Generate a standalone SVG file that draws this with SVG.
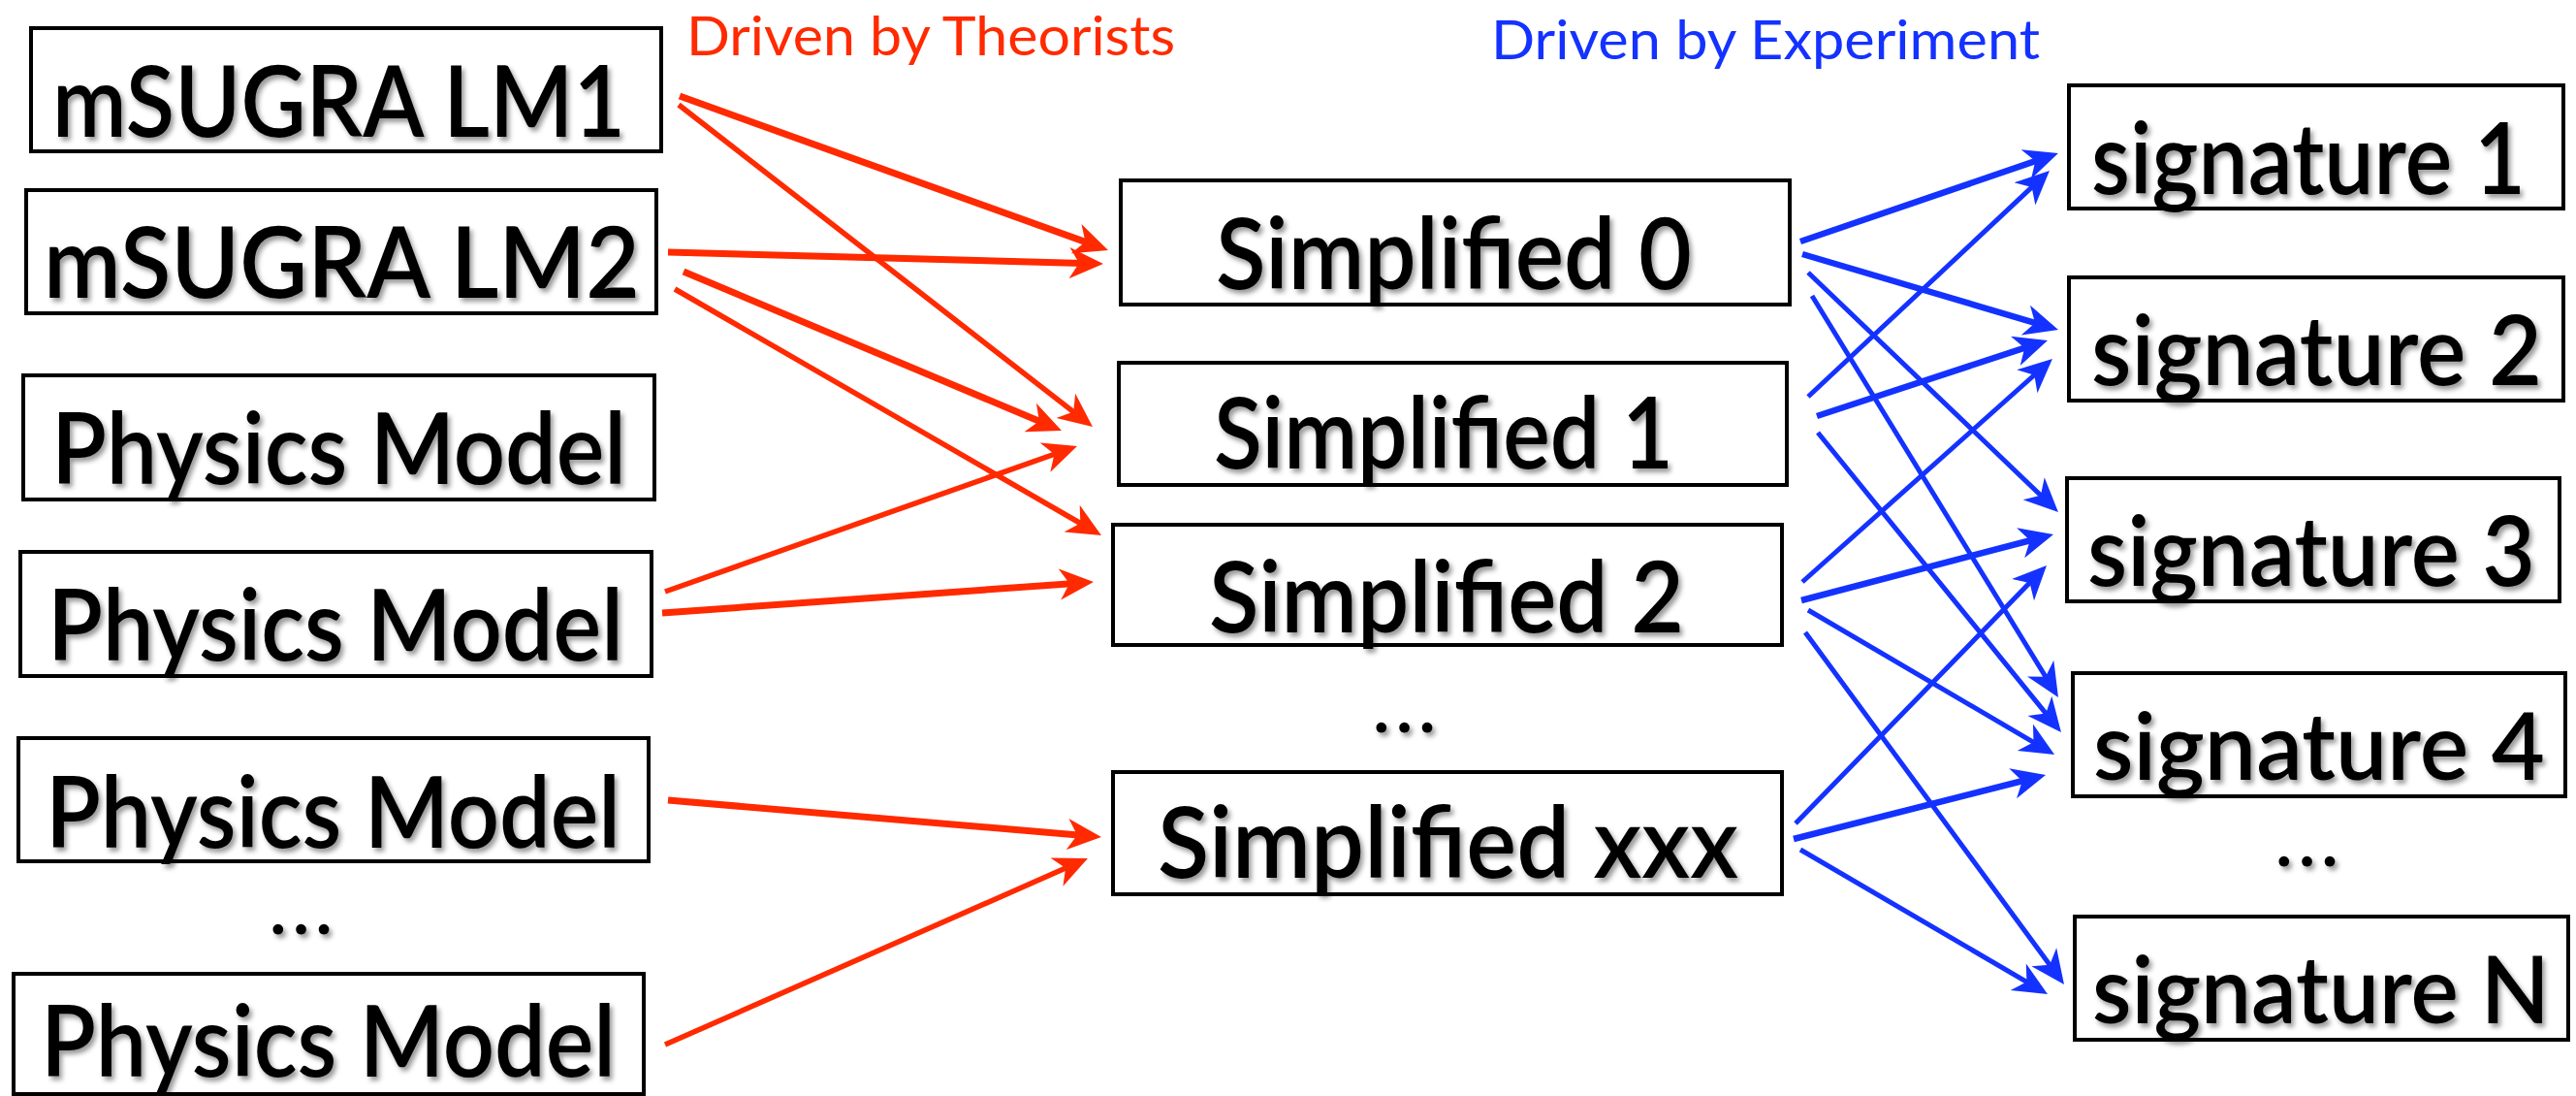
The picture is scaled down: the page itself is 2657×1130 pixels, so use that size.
<svg xmlns="http://www.w3.org/2000/svg" width="2657" height="1130" viewBox="0 0 2657 1130">
<style>
.box{fill:#fff;stroke:#000;stroke-width:4}
.lbl{font-family:Lato,"Open Sans","Liberation Sans",sans-serif;font-size:103px;font-weight:600;fill:#000;filter:url(#sh)}
.dots{font-family:Lato,"Liberation Sans",sans-serif;font-size:70px;font-weight:700;letter-spacing:7px;fill:#000;text-anchor:middle;filter:url(#sh)}
.ttl{font-family:Lato,"Open Sans","Liberation Sans",sans-serif;font-size:57px}
.r{stroke:#ff2a00;fill:none;marker-end:url(#ar)}
.b{stroke:#1432ff;fill:none;marker-end:url(#ab)}
.r.thick{stroke-width:7}
.r.thin{stroke-width:5.5}
.b.thick{stroke-width:6.5}
.b.thin{stroke-width:5}
</style>
<defs>
<filter id="sh" x="-5%" y="-20%" width="110%" height="150%">
<feDropShadow dx="3" dy="4" stdDeviation="2.5" flood-color="#000" flood-opacity="0.4"/>
</filter>
<marker id="ar" viewBox="-23 -17 35 34" refX="0" refY="0" markerWidth="35" markerHeight="34" markerUnits="userSpaceOnUse" orient="auto">
<path d="M12,0 L-23,-16 L-13,0 L-23,16 Z" fill="#ff2a00"/>
</marker>
<marker id="ab" viewBox="-23 -17 35 34" refX="0" refY="0" markerWidth="35" markerHeight="34" markerUnits="userSpaceOnUse" orient="auto">
<path d="M12,0 L-23,-16 L-13,0 L-23,16 Z" fill="#1432ff"/>
</marker>
</defs>
<rect width="2657" height="1130" fill="#fff"/>

<text class="ttl" x="708" y="57" fill="#ff2a00" textLength="504" lengthAdjust="spacingAndGlyphs">Driven by Theorists</text>
<text class="ttl" x="1538" y="61" fill="#1432ff" textLength="566" lengthAdjust="spacingAndGlyphs">Driven by Experiment</text>

<g id="connectors">
<g id="theorist-arrows">
<line class="r thick" x1="701" y1="99" x2="1131.7" y2="253.9"/>
<line class="r thin" x1="700" y1="108" x2="1117.5" y2="432.6"/>
<line class="r thick" x1="689" y1="260" x2="1126" y2="271.7"/>
<line class="r thick" x1="705" y1="280" x2="1083.9" y2="439.3"/>
<line class="r thin" x1="696" y1="298" x2="1125.6" y2="546"/>
<line class="r thin" x1="686" y1="610" x2="1099.7" y2="464"/>
<line class="r thick" x1="683" y1="632" x2="1116" y2="600.9"/>
<line class="r thick" x1="689" y1="825" x2="1124" y2="862"/>
<line class="r thin" x1="686" y1="1077" x2="1111" y2="889.8"/>
</g>
<g id="experiment-arrows">
<line class="b thick" x1="1857" y1="249" x2="2111.6" y2="161.9"/>
<line class="b thick" x1="1859" y1="262" x2="2111.5" y2="336.6"/>
<line class="b thin" x1="1865" y1="281" x2="2114.3" y2="519.7"/>
<line class="b thin" x1="1869" y1="305" x2="2116.7" y2="708.8"/>
<line class="b thin" x1="1865" y1="409" x2="2105.2" y2="184.2"/>
<line class="b thick" x1="1874" y1="429" x2="2100.6" y2="354.7"/>
<line class="b thin" x1="1875" y1="446" x2="2118.4" y2="745.7"/>
<line class="b thin" x1="1859" y1="600" x2="2108" y2="378"/>
<line class="b thick" x1="1858" y1="619" x2="2106.4" y2="554"/>
<line class="b thin" x1="1865" y1="629" x2="2108.7" y2="771.9"/>
<line class="b thin" x1="1862" y1="652" x2="2121.9" y2="1005.3"/>
<line class="b thin" x1="1852" y1="849" x2="2102.6" y2="591.6"/>
<line class="b thick" x1="1850" y1="865" x2="2098.4" y2="802"/>
<line class="b thin" x1="1857" y1="876" x2="2101.6" y2="1018.9"/>
</g>
</g>

<g id="n-lm1"><rect class="box" x="32" y="29" width="650" height="127"/><text class="lbl" x="54" y="141" textLength="591" lengthAdjust="spacingAndGlyphs">mSUGRA LM1</text></g>
<g id="n-lm2"><rect class="box" x="27" y="196" width="650" height="127"/><text class="lbl" x="45" y="307" textLength="615" lengthAdjust="spacingAndGlyphs">mSUGRA LM2</text></g>
<g id="n-pm1"><rect class="box" x="24" y="387" width="651" height="128"/><text class="lbl" x="53" y="499" textLength="593" lengthAdjust="spacingAndGlyphs">Physics Model</text></g>
<g id="n-pm2"><rect class="box" x="21" y="569" width="651" height="128"/><text class="lbl" x="49" y="681" textLength="594" lengthAdjust="spacingAndGlyphs">Physics Model</text></g>
<g id="n-pm3"><rect class="box" x="19" y="761" width="650" height="127"/><text class="lbl" x="47" y="874" textLength="593" lengthAdjust="spacingAndGlyphs">Physics Model</text></g>
<g id="n-pm4"><rect class="box" x="14" y="1004" width="650" height="124"/><text class="lbl" x="42" y="1110" textLength="593" lengthAdjust="spacingAndGlyphs">Physics Model</text></g>
<text class="dots" x="314" y="963">...</text>

<g id="n-s0"><rect class="box" x="1156" y="186" width="690" height="128"/><text class="lbl" x="1254" y="298" textLength="491" lengthAdjust="spacingAndGlyphs">Simplified 0</text></g>
<g id="n-s1"><rect class="box" x="1154" y="374" width="689" height="126"/><text class="lbl" x="1252" y="483" textLength="474" lengthAdjust="spacingAndGlyphs">Simplified 1</text></g>
<g id="n-s2"><rect class="box" x="1148" y="541" width="690" height="124"/><text class="lbl" x="1247" y="652" textLength="490" lengthAdjust="spacingAndGlyphs">Simplified 2</text></g>
<text class="dots" x="1452" y="755">...</text>
<g id="n-sxxx"><rect class="box" x="1148" y="796" width="690" height="126"/><text class="lbl" x="1194" y="905" textLength="599" lengthAdjust="spacingAndGlyphs">Simplified xxx</text></g>

<g id="n-sig1"><rect class="box" x="2134" y="88" width="510" height="127"/><text class="lbl" x="2157" y="200" textLength="448" lengthAdjust="spacingAndGlyphs">signature 1</text></g>
<g id="n-sig2"><rect class="box" x="2134" y="286" width="510" height="127"/><text class="lbl" x="2157" y="397" textLength="465" lengthAdjust="spacingAndGlyphs" style="font-size:100px">signature 2</text></g>
<g id="n-sig3"><rect class="box" x="2132" y="493" width="508" height="127"/><text class="lbl" x="2153" y="604" textLength="462" lengthAdjust="spacingAndGlyphs" style="font-size:100px">signature 3</text></g>
<g id="n-sig4"><rect class="box" x="2138" y="694" width="508" height="127"/><text class="lbl" x="2159" y="804" textLength="466" lengthAdjust="spacingAndGlyphs" style="font-size:97px">signature 4</text></g>
<text class="dots" x="2383" y="893">...</text>
<g id="n-sigN"><rect class="box" x="2140" y="945" width="509" height="127"/><text class="lbl" x="2158" y="1055" textLength="472" lengthAdjust="spacingAndGlyphs" style="font-size:96px">signature N</text></g>
</svg>
